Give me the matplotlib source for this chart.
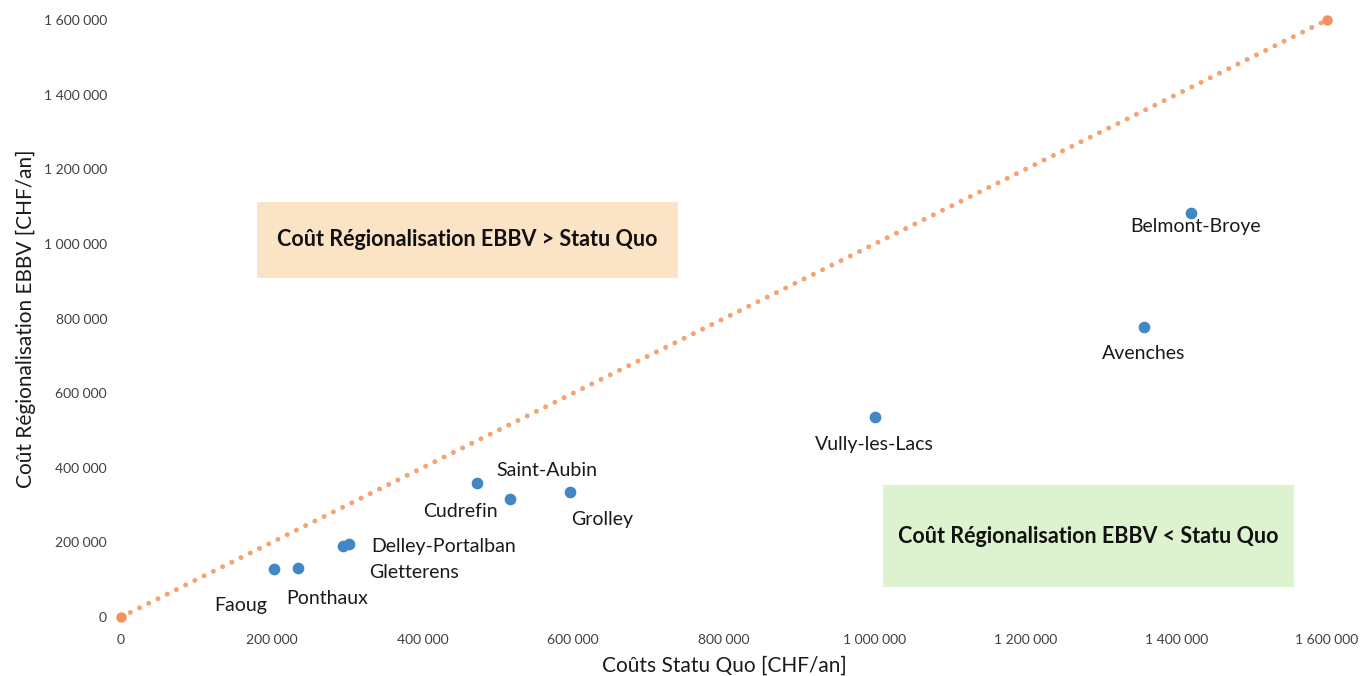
import matplotlib
matplotlib.use("Agg")
import matplotlib.pyplot as plt
from matplotlib.patches import Rectangle
from matplotlib.ticker import FuncFormatter, MultipleLocator

plt.rcParams['font.family'] = ['Lato', 'DejaVu Sans']

communes = ["Faoug", "Ponthaux", "Gletterens", "Delley-Portalban", "Saint-Aubin",
            "Cudrefin", "Grolley", "Vully-les-Lacs", "Avenches", "Belmont-Broye"]
statu_quo = [203000, 235000, 294500, 302500, 472000, 516000, 596000, 1000000, 1357000, 1419500]
ebbv = [128700, 131400, 190400, 195700, 359300, 316400, 335100, 536200, 777500, 1083100]
# label offsets in points (dx, dy) and alignment
label_offsets = [(-24, -26, 'center'), (21, -22, 'center'), (19, -19, 'left'),
                 (16, -2, 'left'), (14, 9, 'left'), (-9, -9, 'right'),
                 (1, -20, 'left'), (0, -20, 'center'), (0, -19, 'center'), (3, -10, 'center')]
diag_x = [0, 1600000]
diag_y = [0, 1600000]

fig = plt.figure(figsize=(13.65, 6.76), dpi=100)
ax = fig.add_axes([121/1365, 1-617/676, (1327-121)/1365, (617-20)/676])

orange = '#F5A374'
blue = '#4387C7'

ax.plot(diag_x, diag_y, linestyle=(0, (0.01, 2.05)), color=orange, lw=3.6,
        dash_capstyle='round', zorder=2, clip_on=False)
ax.plot(diag_x, diag_y, linestyle='none', marker='o', ms=6.5, color='#F39060',
        zorder=3, clip_on=False)
ax.scatter(statu_quo, ebbv, s=55, color=blue, zorder=4, clip_on=False)

for name, x, y, (dx, dy, ha) in zip(communes, statu_quo, ebbv, label_offsets):
    ax.annotate(name, (x, y), xytext=(dx, dy), textcoords='offset points',
                ha=ha, va='center', fontsize=14, color='#1a1a1a', zorder=5)

# annotation boxes
ax.add_patch(Rectangle((180400, 908900), 739000-180400, 1112600-908900,
                       facecolor='#FBE3C6', edgecolor='none', zorder=1))
ax.text((180400+739000)/2, (908900+1112600)/2, "Coût Régionalisation EBBV > Statu Quo",
        ha='center', va='center', fontsize=15.5, fontweight='bold', color='#111111', zorder=5)
ax.add_patch(Rectangle((1010900, 80400), 1556200-1010900, 353900-80400,
                       facecolor='#DDF3CF', edgecolor='none', zorder=1))
ax.text((1010900+1556200)/2, (80400+353900)/2 - 2000, "Coût Régionalisation EBBV < Statu Quo",
        ha='center', va='center', fontsize=15.5, fontweight='bold', color='#111111', zorder=5)

ax.set_xlim(0, 1600000)
ax.set_ylim(0, 1600000)
ax.xaxis.set_major_locator(MultipleLocator(200000))
ax.yaxis.set_major_locator(MultipleLocator(200000))
fmt = FuncFormatter(lambda v, p: f"{int(v):,}".replace(",", " "))
ax.xaxis.set_major_formatter(fmt)
ax.yaxis.set_major_formatter(fmt)
ax.tick_params(axis='x', length=0, labelsize=10, labelcolor='#404040', pad=12)
ax.tick_params(axis='y', length=0, labelsize=10, labelcolor='#404040', pad=10)
for s in ax.spines.values():
    s.set_visible(False)

ax.set_xlabel("Coûts Statu Quo [CHF/an]", fontsize=15, color='#1a1a1a', labelpad=7)
ax.set_ylabel("Coût Régionalisation EBBV [CHF/an]", fontsize=15, color='#1a1a1a', labelpad=6)

fig.savefig("out.png", dpi=100, facecolor='white')
